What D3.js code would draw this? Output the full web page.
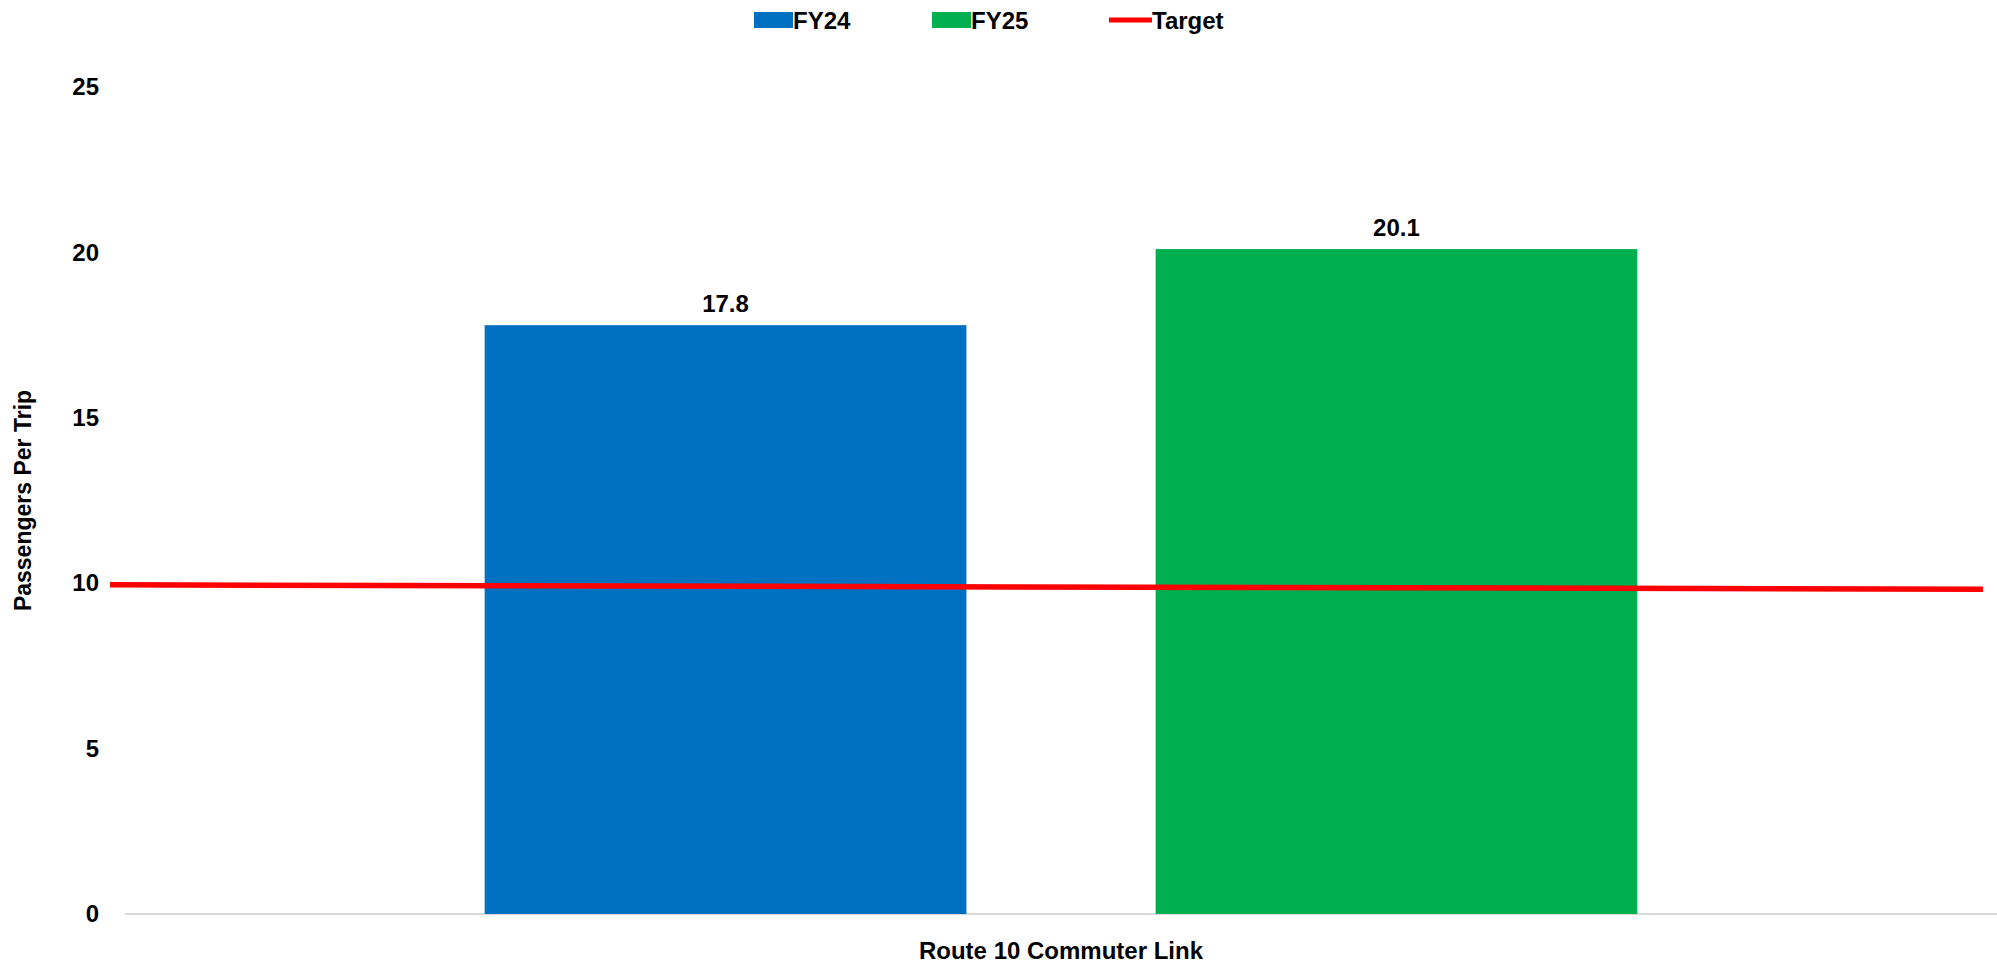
<!DOCTYPE html>
<html>
<head>
<meta charset="utf-8">
<script src="https://cdn.jsdelivr.net/npm/d3@7"></script>
<style>
  body { margin: 0; background: #fff; }
  svg text { font-family: "Liberation Sans", Arial, sans-serif; font-weight: bold; fill: #000; }
</style>
</head>
<body>
<div id="chart"></div>
<script>
// Chart data
const category = "Route 10 Commuter Link";
const seriesNames = ["FY24", "FY25"];
const seriesValues = [17.8, 20.1];
const seriesColors = ["#0070C0", "#00B050"];
const targetName = "Target";
const targetValues = [9.95, 9.82];   // line drifts slightly from left to right
const yTicks = [0, 5, 10, 15, 20, 25];

// Layout
const W = 1997, H = 964;
const margin = { top: 87, right: 0, bottom: 50, left: 125 };
const width = W - margin.left - margin.right;
const height = H - margin.top - margin.bottom;

const svg = d3.select("#chart")
    .append("svg")
    .attr("width", W)
    .attr("height", H);

const g = svg.append("g")
    .attr("transform", "translate(" + margin.left + "," + margin.top + ")");

// Scales
const yScale = d3.scaleLinear()
    .domain([0, 25])
    .range([height, 0]);

const xBand = d3.scaleBand()
    .domain([category])
    .range([0, width])
    .paddingInner(0)
    .paddingOuter(0.312);

const xSeries = d3.scaleBand()
    .domain(seriesNames)
    .range([0, xBand.bandwidth()])
    .paddingInner(0.282)
    .paddingOuter(0);

// Y axis labels (no axis line)
const yAxis = g.append("g")
    .call(d3.axisLeft(yScale).tickValues(yTicks).tickSize(0).tickPadding(26));
yAxis.select(".domain").remove();
yAxis.selectAll("text")
    .attr("font-size", "24px")
    .attr("font-family", null);

// Baseline
g.append("line")
    .attr("x1", 0)
    .attr("x2", width)
    .attr("y1", yScale(0))
    .attr("y2", yScale(0))
    .attr("stroke", "#d9d9d9")
    .attr("stroke-width", 2);

// Bars
const bars = g.selectAll(".bar")
    .data(seriesNames.map((s, i) => ({ name: s, value: seriesValues[i], color: seriesColors[i] })))
    .enter().append("g")
    .attr("class", "bar");

bars.append("rect")
    .attr("x", d => xBand(category) + xSeries(d.name))
    .attr("y", d => yScale(d.value))
    .attr("width", xSeries.bandwidth())
    .attr("height", d => yScale(0) - yScale(d.value))
    .attr("fill", d => d.color);

bars.append("text")
    .attr("x", d => xBand(category) + xSeries(d.name) + xSeries.bandwidth() / 2)
    .attr("y", d => yScale(d.value) - 13)
    .attr("text-anchor", "middle")
    .attr("font-size", "24px")
    .text(d => d.value.toFixed(1));

// Target line, spans slightly past the plot on the left
const tScale = d3.scaleLinear()
    .domain([0, 1])
    .range([-15, width - 14]);

g.append("path")
    .datum(targetValues)
    .attr("d", d3.line()
        .x((d, i) => tScale(i))
        .y(d => yScale(d)))
    .attr("fill", "none")
    .attr("stroke", "#FF0000")
    .attr("stroke-width", 5.5);

// X category label
g.append("text")
    .attr("x", xBand(category) + xBand.bandwidth() / 2)
    .attr("y", height + 45)
    .attr("text-anchor", "middle")
    .attr("font-size", "24px")
    .text(category);

// Y axis title
svg.append("text")
    .attr("transform", "rotate(-90)")
    .attr("x", -(margin.top + height / 2))
    .attr("y", 31)
    .attr("text-anchor", "middle")
    .attr("font-size", "23px")
    .text("Passengers Per Trip");

// Legend
const legend = svg.append("g");
const legendItems = [
    { name: seriesNames[0], color: seriesColors[0], type: "rect", x: 754 },
    { name: seriesNames[1], color: seriesColors[1], type: "rect", x: 932 },
    { name: targetName, color: "#FF0000", type: "line", x: 1109 }
];

legendItems.forEach(item => {
    if (item.type === "rect") {
        legend.append("rect")
            .attr("x", item.x)
            .attr("y", 12)
            .attr("width", 39)
            .attr("height", 16)
            .attr("fill", item.color);
    } else {
        legend.append("line")
            .attr("x1", item.x)
            .attr("x2", item.x + 43)
            .attr("y1", 20)
            .attr("y2", 20)
            .attr("stroke", item.color)
            .attr("stroke-width", 5);
    }
    legend.append("text")
        .attr("x", item.x + (item.type === "rect" ? 39 : 43))
        .attr("y", 29)
        .attr("font-size", "24px")
        .text(item.name);
});
</script>
</body>
</html>
